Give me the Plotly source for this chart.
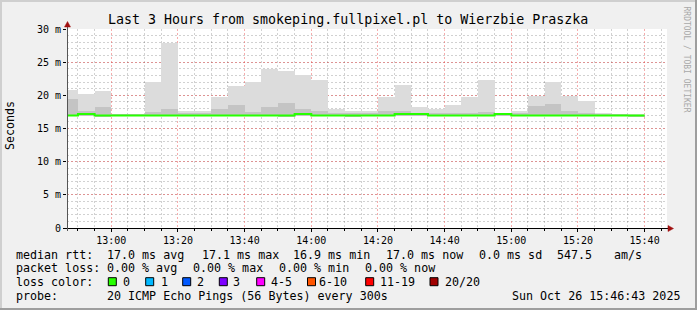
import plotly.graph_objects as go

# ---------------- data ----------------
day = "2025-10-26"
bin_starts = ["12:45", "12:50", "12:55", "13:00", "13:05", "13:10", "13:15",
              "13:20", "13:25", "13:30", "13:35", "13:40", "13:45", "13:50",
              "13:55", "14:00", "14:05", "14:10", "14:15", "14:20", "14:25",
              "14:30", "14:35", "14:40", "14:45", "14:50", "14:55", "15:00",
              "15:05", "15:10", "15:15", "15:20", "15:25", "15:30", "15:35"]
bin_end = "15:40"
# RTT values in ms
smoke_max = [20.75, 20.25, 20.6, 17.1, 17.1, 22.05, 27.9,
             17.6, 17.7, 19.7, 21.45, 21.95, 24.0, 23.6,
             23.1, 22.25, 17.9, 17.6, 17.7, 19.7, 21.6,
             18.2, 17.9, 18.6, 19.7, 22.35, 17.35, 17.6,
             19.85, 21.95, 19.85, 19.2, 17.3, 17.2, 17.2]
smoke_hi = [19.5, 17.7, 18.3, 17.05, 17.05, 17.5, 18.0,
            17.3, 17.3, 18.0, 18.6, 17.5, 18.3, 18.8,
            18.0, 17.6, 17.3, 17.3, 17.3, 17.6, 17.6,
            17.4, 17.4, 17.4, 17.4, 17.5, 17.25, 17.4,
            18.4, 18.7, 17.6, 17.3, 17.2, 17.1, 17.1]
smoke_min = [16.9, 16.9, 16.7, 16.9, 16.9, 16.9, 16.9,
             16.9, 16.9, 16.9, 16.9, 16.9, 16.9, 16.8,
             16.9, 16.9, 16.9, 16.8, 16.9, 16.9, 16.9,
             16.9, 16.9, 16.9, 16.9, 16.9, 16.9, 16.9,
             16.9, 16.9, 16.9, 16.9, 16.9, 16.9, 16.75]
median = [16.95, 17.2, 16.95, 16.95, 16.95, 16.95, 16.95,
          16.95, 16.95, 16.95, 16.95, 16.95, 16.95, 16.95,
          17.2, 16.95, 16.95, 16.95, 16.95, 16.95, 17.2,
          17.2, 16.95, 16.95, 16.95, 16.95, 17.2, 16.95,
          16.95, 16.95, 16.95, 16.95, 16.95, 16.95, 16.95]

y_tick_vals = [0, 5, 10, 15, 20, 25, 30]
y_tick_text = ["0", "5 m", "10 m", "15 m", "20 m", "25 m", "30 m"]

title = "Last 3 Hours from smokeping.fullpixel.pl to Wierzbie Praszka"
range_start = "2025-10-26 12:46:43"
range_end = "2025-10-26 15:46:43"

row1 = [("median rtt:", 16), ("17.0 ms avg", 107.3), ("17.1 ms max", 201.7),
        ("16.9 ms min", 293.3), ("17.0 ms now", 386), ("0.0 ms sd", 479),
        ("547.5", 557.3), ("am/s", 614)]
row2 = [("packet loss:", 16), ("0.00 % avg", 107.3), ("0.00 % max", 193.3),
        ("0.00 % min", 279.3), ("0.00 % now", 365)]
loss_labels = ["0", "1", "2", "3", "4-5", "6-10", "11-19", "20/20"]
loss_colors = ["#26ff00", "#00b8ff", "#0059ff", "#7e00ff", "#ff00ff",
               "#ff5500", "#ff0000", "#a00000"]
loss_box_x = [108.3, 145.7, 182.7, 219.3, 256.7, 307.5, 365.7, 430]
loss_text_x = [123.3, 160.7, 197.3, 233.3, 271, 318.5, 380, 445]
probe_text = "20 ICMP Echo Pings (56 Bytes) every 300s"
date_text = "Sun Oct 26 15:46:43 2025"

# ---------------- geometry ----------------
W, H = 697, 310
L, T, PW, PH = 67, 29, 600, 199
B = H - T - PH
R = W - L - PW
FONT = "DejaVu Sans Mono"


def px(x):
    return (x - L) / PW


def py(y):
    return (T + PH - y) / PH


import datetime as dt
starts = [f"{day} {s}" for s in bin_starts]
centers = [(dt.datetime.fromisoformat(s) + dt.timedelta(seconds=150)).isoformat(sep=" ") for s in starts]
BW = 300000

fig = go.Figure()
fig.add_trace(go.Bar(x=centers, base=smoke_min,
                     y=[a - b for a, b in zip(smoke_max, smoke_min)],
                     width=BW, marker=dict(color="#dcdcdc", line=dict(width=0)),
                     hoverinfo="skip", showlegend=False))
fig.add_trace(go.Bar(x=centers, base=smoke_min,
                     y=[a - b for a, b in zip(smoke_hi, smoke_min)],
                     width=BW, marker=dict(color="#c4c4c4", line=dict(width=0)),
                     hoverinfo="skip", showlegend=False))
fig.add_trace(go.Scatter(x=starts + [f"{day} {bin_end}"], y=median + [median[-1]],
                         mode="lines", line=dict(color="#26ff00", width=2, shape="hv"),
                         hoverinfo="skip", showlegend=False))

annotations = []
shapes = []

# title
annotations.append(dict(text=title, x=px(347.5), y=py(19), xref="paper", yref="paper",
                        xanchor="center", yanchor="middle", showarrow=False,
                        font=dict(family=FONT, size=13.3, color="#000")))
# y title
annotations.append(dict(text="Seconds", x=px(10), y=py(126), xref="paper", yref="paper",
                        xanchor="center", yanchor="middle", showarrow=False, textangle=-90,
                        font=dict(family=FONT, size=11.6, color="#000")))
# side credit
annotations.append(dict(text="RRDTOOL / TOBI OETIKER", x=px(686.5), y=py(59), xref="paper",
                        yref="paper", xanchor="center", yanchor="middle", showarrow=False,
                        textangle=90, font=dict(family=FONT, size=8, color="#a8a8a8")))


def txt(s, x, y, anchor="left"):
    annotations.append(dict(text=s, x=px(x - 1), y=py(y), xref="paper", yref="paper",
                            xanchor=anchor, yanchor="middle", showarrow=False, borderpad=0,
                            font=dict(family=FONT, size=11.66, color="#000")))


for s, x in row1:
    txt(s, x, 255)
for s, x in row2:
    txt(s, x, 268.3)
txt("loss color:", 16, 282.3)
for lab, col, bx, tx in zip(loss_labels, loss_colors, loss_box_x, loss_text_x):
    shapes.append(dict(type="rect", xref="paper", yref="paper",
                       x0=px(bx), x1=px(bx + 8), y0=py(285.7), y1=py(277.7),
                       fillcolor=col, line=dict(color="#000", width=1)))
    txt(lab, tx, 282.3)
txt("probe:", 16, 295.7)
txt(probe_text, 107.3, 295.7)
annotations.append(dict(text=date_text, x=px(681), y=py(295.7), xref="paper", yref="paper",
                        xanchor="right", yanchor="middle", showarrow=False, borderpad=0,
                        font=dict(family=FONT, size=11.66, color="#000")))

# frame shading
shapes += [
    dict(type="line", xref="paper", yref="paper", x0=px(0), x1=px(W), y0=py(1), y1=py(1),
         line=dict(color="#cfcfcf", width=2)),
    dict(type="line", xref="paper", yref="paper", x0=px(1), x1=px(1), y0=py(0), y1=py(H),
         line=dict(color="#cfcfcf", width=2)),
    dict(type="line", xref="paper", yref="paper", x0=px(0), x1=px(W), y0=py(H - 1), y1=py(H - 1),
         line=dict(color="#9e9e9e", width=2)),
    dict(type="line", xref="paper", yref="paper", x0=px(W - 1), x1=px(W - 1), y0=py(0), y1=py(H),
         line=dict(color="#9e9e9e", width=2)),
]
# axes lines and arrows
shapes += [
    dict(type="line", xref="paper", yref="paper", x0=px(64), x1=px(670), y0=py(228.5), y1=py(228.5),
         line=dict(color="#000", width=1)),
    dict(type="line", xref="paper", yref="paper", x0=px(67.5), x1=px(67.5), y0=py(231), y1=py(25),
         line=dict(color="#555", width=1)),
    dict(type="path", xref="paper", yref="paper",
         path=f"M {px(668)} {py(225.5)} L {px(673.5)} {py(228.5)} L {px(668)} {py(231.5)} Z",
         fillcolor="#a01010", line=dict(color="#a01010", width=0.5)),
    dict(type="path", xref="paper", yref="paper",
         path=f"M {px(64.5)} {py(27)} L {px(67.5)} {py(21.5)} L {px(70.5)} {py(27)} Z",
         fillcolor="#a01010", line=dict(color="#a01010", width=0.5)),
]

major_grid = "rgba(235,70,70,0.45)"
minor_grid = "rgba(0,0,0,0.18)"

fig.update_layout(
    width=W, height=H,
    margin=dict(l=L, r=R, t=T, b=B, pad=0),
    paper_bgcolor="#f0f0f0", plot_bgcolor="#ffffff",
    barmode="overlay", bargap=0,
    showlegend=False,
    annotations=annotations, shapes=shapes,
    xaxis=dict(type="date", range=[range_start, range_end],
               tick0=f"{day} 13:00", dtick=20 * 60 * 1000, tickformat="%H:%M",
               showgrid=True, gridcolor=major_grid, griddash="2px,2px", gridwidth=1,
               minor=dict(dtick=5 * 60 * 1000, tick0=f"{day} 13:00", showgrid=True,
                          gridcolor=minor_grid, griddash="2px,2px", gridwidth=1,
                          ticks="outside", ticklen=2, tickcolor="#000"),
               ticks="outside", ticklen=3, tickcolor="#000",
               showline=False, zeroline=False, fixedrange=True,
               tickfont=dict(family=FONT, size=10, color="#000")),
    yaxis=dict(range=[0, 30], tickvals=y_tick_vals, ticktext=y_tick_text,
               showgrid=True, gridcolor=major_grid, griddash="2px,2px", gridwidth=1,
               minor=dict(dtick=1, showgrid=True, gridcolor=minor_grid,
                          griddash="2px,2px", gridwidth=1),
               ticks="outside", ticklen=3, tickcolor="#000",
               showline=False, zeroline=False, fixedrange=True,
               tickfont=dict(family=FONT, size=10, color="#000")),
)

fig.write_html("out.html")
